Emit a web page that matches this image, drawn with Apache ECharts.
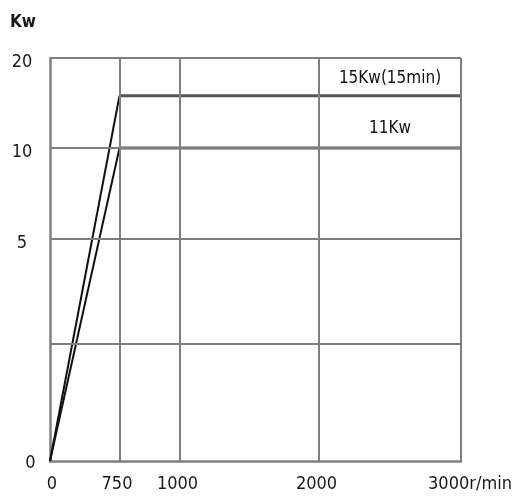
<!DOCTYPE html>
<html><head><meta charset="utf-8">
<script src="https://cdn.jsdelivr.net/npm/echarts@6/dist/echarts.min.js"></script>
<style>html,body{margin:0;padding:0;background:#fff}#c{width:516px;height:499px}</style>
</head><body><div id="c"></div>
<script>
// ---- data ----
const speedRpm = [0, 750, 3000];
const power15 = [0, 15.8, 15.8];   // 15Kw (15min) curve, read on the chart's scale
const power11 = [0, 10, 10];       // 11Kw curve
const xTickValues = [0, 750, 1000, 2000, 3000];
const xTickLabels = ['0', '750', '1000', '2000', '3000r/min'];
const yGridValues = [0, 2.5, 5, 10, 20];
const yTickValues = [0, 5, 10, 20];
const yTickLabels = ['0', '5', '10', '20'];
const curveLabels = ['15Kw(15min)', '11Kw'];
const labelRpm = 2500;

// ---- schematic (piecewise) scale of the original drawing ----
const xScale = { domain: [0, 750, 1000, 2000, 3000], range: [0, 69.5, 130, 269, 411] };
const yScale = { domain: [0, 2.5, 5, 10, 20], range: [0, 117, 222, 313, 403] };
function piece(s, v) {
  const d = s.domain, r = s.range;
  for (let i = 1; i < d.length; i++) {
    if (v <= d[i] || i === d.length - 1) {
      return r[i-1] + (v - d[i-1]) / (d[i] - d[i-1]) * (r[i] - r[i-1]);
    }
  }
}
const sx = v => piece(xScale, v), sy = v => piece(yScale, v);
function nearestLabel(val, vals, labels, f) {
  let best = 0, bd = Infinity;
  vals.forEach((v, i) => { const dd = Math.abs(f(v) - val); if (dd < bd) { bd = dd; best = i; } });
  return labels[best];
}

const FONT = '"DejaVu Sans Condensed", "Liberation Sans", sans-serif';
const gridColor = '#7f7f7f';
const txt = '#1a1a1a';

function seg(arr, a, b) {
  return [[sx(speedRpm[a]), sy(arr[a])], [sx(speedRpm[b]), sy(arr[b])]];
}

const chart = echarts.init(document.getElementById('c'), null, { renderer: 'canvas' });
chart.setOption({
  animation: false,
  backgroundColor: '#fff',
  grid: { left: 50, top: 58, right: 55, bottom: 38, containLabel: false, outerBoundsMode: 'none' },
  xAxis: {
    type: 'value', min: sx(xTickValues[0]), max: sx(xTickValues[xTickValues.length - 1]),
    splitLine: { show: false }, axisTick: { show: false },
    axisLine: { show: true, onZero: false, lineStyle: { color: gridColor, width: 2.5 } },
    axisLabel: {
      customValues: xTickValues.map(sx), margin: 14, color: txt,
      fontFamily: FONT, fontSize: 18,
      formatter: v => {
        const t = nearestLabel(v, xTickValues, xTickLabels, sx);
        if (t === xTickLabels[xTickLabels.length - 1]) return '{last|' + t + '}';
        if (t === xTickLabels[0]) return '{f|' + t + '}';
        return '{n|' + t + '}';
      },
      rich: {
        n: { fontFamily: FONT, fontSize: 18, color: txt, padding: [0, 5, 0, 0] },
        f: { fontFamily: FONT, fontSize: 18, color: txt, padding: [0, 0, 0, 4] },
        last: { fontFamily: FONT, fontSize: 18, color: txt, padding: [0, 0, 8, 18] }
      }
    }
  },
  yAxis: {
    type: 'value', min: sy(0), max: sy(20),
    name: 'Kw', nameLocation: 'end', nameGap: 27,
    nameTextStyle: { fontFamily: FONT, fontSize: 17, fontWeight: 'bold', color: txt, padding: [0, 54, 0, 0] },
    splitLine: { show: false }, axisTick: { show: false },
    axisLine: { show: true, onZero: false, lineStyle: { color: gridColor, width: 2.5 } },
    axisLabel: {
      customValues: yTickValues.map(sy), margin: 28, align: 'center', color: txt,
      fontFamily: FONT, fontSize: 18,
      formatter: v => {
        const t = nearestLabel(v, yTickValues, yTickLabels, sy);
        return t === '0' ? '{z|' + t + '}' : '{n|' + t + '}';
      },
      rich: {
        n: { fontFamily: FONT, fontSize: 18, color: txt, padding: [8, 0, 0, 0] },
        z: { fontFamily: FONT, fontSize: 18, color: txt, padding: [4, 0, 0, 17] }
      }
    }
  },
  series: [
    {
      type: 'line', data: [], silent: true,
      markLine: {
        silent: true, symbol: ['none', 'none'], animation: false,
        label: { show: false },
        lineStyle: { color: gridColor, width: 2, type: 'solid' },
        emphasis: { disabled: true },
        data: xTickValues.slice(1).map(v => ({ xAxis: sx(v) }))
          .concat(yGridValues.slice(1).map(v => ({ yAxis: sy(v) })))
      }
    },
    { type: 'line', data: seg(power15, 0, 1), symbol: 'none', silent: true,
      lineStyle: { color: '#111', width: 2 } },
    { type: 'line', data: seg(power11, 0, 1), symbol: 'none', silent: true,
      lineStyle: { color: '#111', width: 2 } },
    { type: 'line', data: seg(power15, 1, 2), symbol: 'none', silent: true,
      lineStyle: { color: '#555', width: 3 },
      markPoint: { symbol: 'circle', symbolSize: 0, silent: true,
        data: [{ coord: [sx(labelRpm), sy(power15[1])] }],
        label: { show: true, position: 'top', distance: 9, formatter: curveLabels[0],
          fontFamily: FONT, fontSize: 17, color: '#111' } } },
    { type: 'line', data: seg(power11, 1, 2), symbol: 'none', silent: true,
      lineStyle: { color: '#555', width: 3 },
      markPoint: { symbol: 'circle', symbolSize: 0, silent: true,
        data: [{ coord: [sx(labelRpm), sy(power11[1])] }],
        label: { show: true, position: 'top', distance: 11, formatter: curveLabels[1],
          fontFamily: FONT, fontSize: 17, color: '#111' } } }
  ]
});
</script></body></html>
